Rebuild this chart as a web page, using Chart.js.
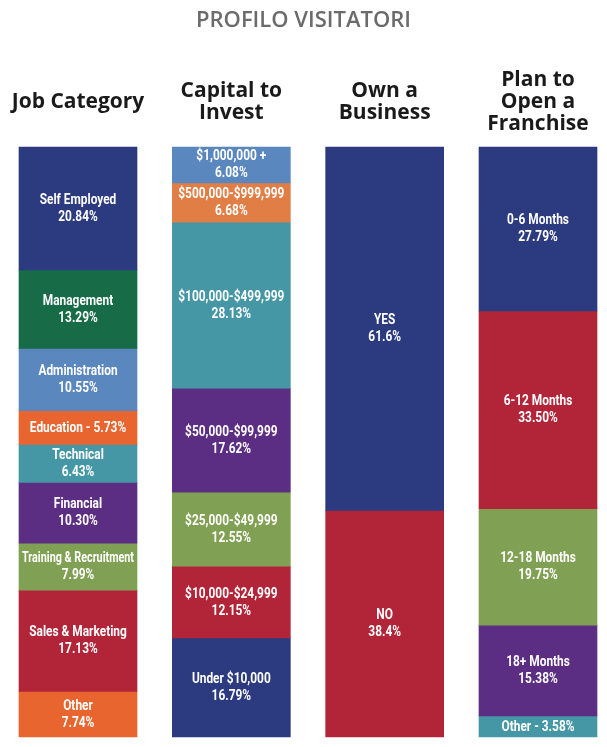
<!DOCTYPE html>
<html>
<head>
<meta charset="utf-8">
<title>Profilo Visitatori</title>
<script src="https://cdn.jsdelivr.net/npm/chart.js@4.4.1/dist/chart.umd.min.js"></script>
<style>
  html, body { margin: 0; padding: 0; background: #ffffff; }
  #wrap { width: 607px; height: 747px; position: relative; }
</style>
</head>
<body>
<div id="wrap"><canvas id="profileChart" width="607" height="747"></canvas></div>
<script>
// Chart data
const chartTitle = "PROFILO VISITATORI";
const columnKeys = ["job", "capital", "own", "plan"];
const columnHeaders = [
  ["Job Category"],
  ["Capital to", "Invest"],
  ["Own a", "Business"],
  ["Plan to", "Open a", "Franchise"],
];

const jobLabels = ["Self Employed", "Management", "Administration", "Education", "Technical", "Financial", "Training & Recruitment", "Sales & Marketing", "Other"];
const jobValues = [20.84, 13.29, 10.55, 5.73, 6.43, 10.30, 7.99, 17.13, 7.74];

const capitalLabels = ["$1,000,000 +", "$500,000-$999,999", "$100,000-$499,999", "$50,000-$99,999", "$25,000-$49,999", "$10,000-$24,999", "Under $10,000"];
const capitalValues = [6.08, 6.68, 28.13, 17.62, 12.55, 12.15, 16.79];

const ownLabels = ["YES", "NO"];
const ownValues = [61.6, 38.4];

const planLabels = ["0-6 Months", "6-12 Months", "12-18 Months", "18+ Months", "Other"];
const planValues = [27.79, 33.50, 19.75, 15.38, 3.58];

// Colours per segment, top to bottom
const navy = "#2c3a80", darkGreen = "#176b47", lightBlue = "#5b87bf",
  orange = "#e8652f", softOrange = "#e07e45", teal = "#4697a6",
  purple = "#5c2e83", olive = "#80a053", red = "#b22538";

const jobColors = [navy, darkGreen, lightBlue, orange, teal, purple, olive, red, orange];
const capitalColors = [lightBlue, softOrange, teal, purple, olive, red, navy];
const ownColors = [navy, red];
const planColors = [navy, red, olive, purple, teal];

const allLabels = [jobLabels, capitalLabels, ownLabels, planLabels];
const allValues = [jobValues, capitalValues, ownValues, planValues];
const allColors = [jobColors, capitalColors, ownColors, planColors];

// One dataset per segment level, each column keeps its own colour list
const maxSegments = Math.max(...allValues.map(v => v.length));
const datasets = [];
for (let i = 0; i < maxSegments; i++) {
  datasets.push({
    label: "segment " + (i + 1),
    data: allValues.map(v => (i < v.length ? v[i] : null)),
    backgroundColor: allColors.map(c => c[i] || "transparent"),
    borderWidth: 0,
    barThickness: 118,
    stack: "one",
    clip: false,
  });
}

// narrow-looking text: squeeze the natural width a little
function squeezeText(ctx, text, x, y, maxW) {
  const w = ctx.measureText(text).width * 0.85;
  ctx.fillText(text, x, y, Math.min(w, maxW));
}

// Draws the title, the column headers and the segment labels
const textPlugin = {
  id: "profileText",
  afterDatasetsDraw(chart) {
    const ctx = chart.ctx;
    const xScale = chart.scales.x;
    ctx.save();
    ctx.textAlign = "center";
    ctx.textBaseline = "middle";

    ctx.fillStyle = "#6b6b6b";
    ctx.font = "600 22px 'Open Sans', sans-serif";
    ctx.fillText(chartTitle, chart.width / 2, 21);

    ctx.fillStyle = "#1a1a1a";
    ctx.font = "bold 21px 'Open Sans', sans-serif";
    columnHeaders.forEach((lines, j) => {
      const cx = xScale.getPixelForValue(j);
      const lineH = 22;
      const startY = 102 - ((lines.length - 1) * lineH) / 2;
      lines.forEach((line, k) => ctx.fillText(line, cx, startY + k * lineH));
    });

    ctx.fillStyle = "#ffffff";
    ctx.font = "bold 14px Roboto, 'Liberation Sans', sans-serif";
    chart.data.datasets.forEach((ds, i) => {
      const meta = chart.getDatasetMeta(i);
      meta.data.forEach((bar, j) => {
        const value = allValues[j][i];
        if (value == null) return;
        const name = allLabels[j][i];
        const pct = value.toFixed(j === 2 ? 1 : 2) + "%";
        const midY = (bar.y + bar.base) / 2;
        const maxW = 112;
        if (value < 6) {
          squeezeText(ctx, name + " - " + pct, bar.x, midY + 1, maxW);
        } else {
          squeezeText(ctx, name, bar.x, midY - 8, maxW);
          squeezeText(ctx, pct, bar.x, midY + 9, maxW);
        }
      });
    });
    ctx.restore();
  },
};

new Chart(document.getElementById("profileChart"), {
  type: "bar",
  data: {
    labels: columnKeys,
    datasets: datasets,
  },
  options: {
    responsive: false,
    animation: false,
    layout: { padding: { left: 78, right: 69, top: 147, bottom: 10 } },
    plugins: {
      legend: { display: false },
      tooltip: { enabled: false },
      title: { display: false },
    },
    scales: {
      x: { stacked: true, offset: false, display: false },
      y: { stacked: true, min: 0, max: 100, reverse: true, display: false },
    },
  },
  plugins: [textPlugin],
});
</script>
</body>
</html>
